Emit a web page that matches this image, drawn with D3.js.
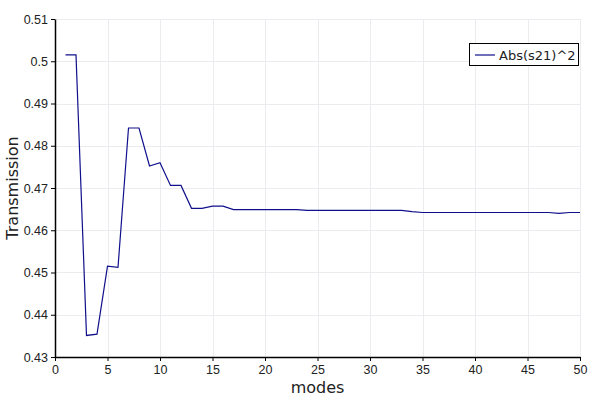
<!DOCTYPE html>
<html>
<head>
<meta charset="utf-8">
<script src="https://cdn.jsdelivr.net/npm/d3@7"></script>
<style>
  html, body { margin: 0; padding: 0; background: #fff; }
  svg { display: block; font-family: "DejaVu Sans", "Liberation Sans", sans-serif; }
</style>
</head>
<body>
<svg id="chart" width="600" height="400"></svg>
<script>
const modes = d3.range(1, 51);
const transmission = [
  0.5015, 0.5015, 0.4351, 0.4354, 0.4515, 0.4512, 0.4842, 0.4842, 0.4752, 0.4760,
  0.4706, 0.4706, 0.4652, 0.4652, 0.4657, 0.4657, 0.4649, 0.4649, 0.4649, 0.4649,
  0.4649, 0.4649, 0.4649, 0.4647, 0.4647, 0.4647, 0.4647, 0.4647, 0.4647, 0.4647,
  0.4647, 0.4647, 0.4647, 0.4644, 0.4642, 0.4642, 0.4642, 0.4642, 0.4642, 0.4642,
  0.4642, 0.4642, 0.4642, 0.4642, 0.4642, 0.4642, 0.4642, 0.4640, 0.4642, 0.4642
];
const xTicks = [0, 5, 10, 15, 20, 25, 30, 35, 40, 45, 50];
const yTicks = [0.43, 0.44, 0.45, 0.46, 0.47, 0.48, 0.49, 0.5, 0.51];
const seriesName = "Abs(s21)^2";
const xLabel = "modes";
const yLabel = "Transmission";

const svg = d3.select("#chart");
const m = { left: 55, right: 20, top: 19, bottom: 43 };
const W = 600, H = 400;
const x = d3.scaleLinear().domain([0, 50]).range([m.left, W - m.right]);
const y = d3.scaleLinear().domain([0.43, 0.51]).range([H - m.bottom, m.top]);

// grid
const grid = svg.append("g").attr("stroke", "#ececf0").attr("stroke-width", 1);
xTicks.forEach(t => {
  if (t === 0) return;
  grid.append("line").attr("x1", Math.round(x(t)) + 0.5).attr("x2", Math.round(x(t)) + 0.5)
    .attr("y1", m.top).attr("y2", H - m.bottom);
});
yTicks.forEach(t => {
  if (t === 0.43) return;
  grid.append("line").attr("y1", Math.round(y(t)) + 0.5).attr("y2", Math.round(y(t)) + 0.5)
    .attr("x1", m.left).attr("x2", W - m.right);
});

// line
const line = d3.line().x((d, i) => x(modes[i])).y(d => y(d));
svg.append("path").datum(transmission)
  .attr("fill", "none").attr("stroke", "#10108c").attr("stroke-width", 1.2)
  .attr("d", line);

// axes
const xAxis = svg.append("g").attr("transform", `translate(0,${H - m.bottom})`)
  .call(d3.axisBottom(x).tickValues(xTicks).tickSize(4).tickSizeOuter(0).tickFormat(d3.format("d")));
const yAxis = svg.append("g").attr("transform", `translate(${m.left},0)`)
  .call(d3.axisLeft(y).tickValues(yTicks).tickSize(4).tickSizeOuter(0).tickFormat(d => +d.toFixed(2) + ""));
[xAxis, yAxis].forEach(a => {
  a.selectAll("path").attr("stroke", "#000").attr("stroke-width", 1.5);
  a.selectAll("line").attr("stroke", "#000");
  a.selectAll("text").attr("fill", "#222").style("font-size", "12.5px");
});
xAxis.selectAll("text").attr("dy", "0.8em");

// axis titles
svg.append("text").attr("x", (m.left + W - m.right) / 2).attr("y", 393)
  .attr("text-anchor", "middle").style("font-size", "16px").attr("fill", "#222").text(xLabel);
svg.append("text").attr("transform", `translate(18,${(m.top + H - m.bottom) / 2}) rotate(-90)`)
  .attr("text-anchor", "middle").style("font-size", "16px").attr("fill", "#222").text(yLabel);

// legend
const lg = svg.append("g");
lg.append("rect").attr("x", 469.5).attr("y", 43.5).attr("width", 109).attr("height", 22)
  .attr("fill", "#fff").attr("stroke", "#000").attr("stroke-width", 1);
lg.append("line").attr("x1", 475).attr("x2", 495).attr("y1", 55).attr("y2", 55)
  .attr("stroke", "#10108c").attr("stroke-width", 1.2);
lg.append("text").attr("x", 499).attr("y", 59.5).style("font-size", "13px").attr("fill", "#222").text(seriesName);
</script>
</body>
</html>
